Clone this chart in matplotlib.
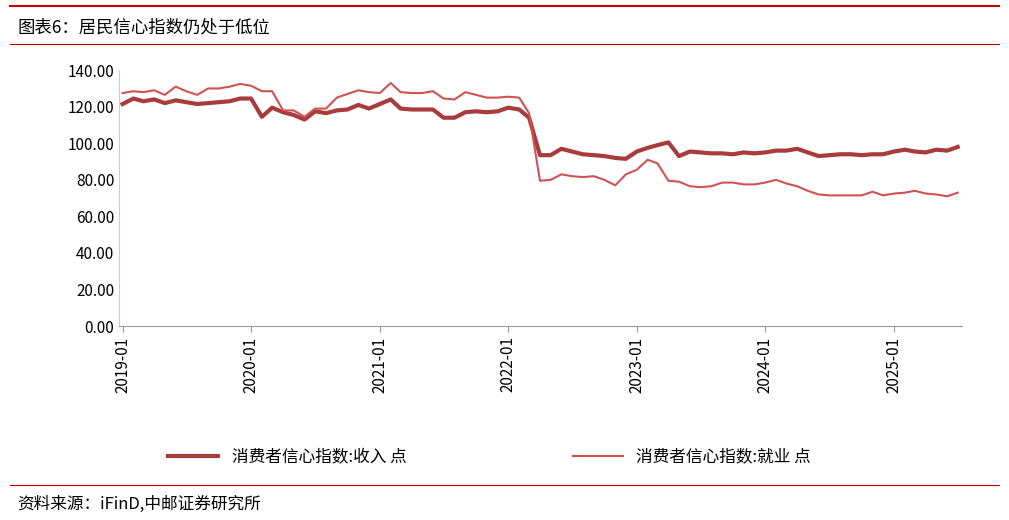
import matplotlib
matplotlib.use("Agg")
import matplotlib.pyplot as plt
import pandas as pd

plt.rcParams['font.family'] = ['Noto Sans CJK SC', 'DejaVu Sans']

dates = pd.date_range("2019-01-01", periods=79, freq="MS")
income = [121.5,124.5,123,124,122,123.5,122.5,121.5,122,122.5,123,124.5,
          124.5,114.5,119.5,117,115.5,113,117.5,116.5,118,118.5,121,119,
          121.5,124,119,118.5,118.5,118.5,114,114,117,117.5,117,117.5,
          119.5,118.5,114,93.5,93.5,97,95.5,94,93.5,93,92,91.5,
          95.5,97.5,99,100.5,93,95.5,95,94.5,94.5,94,95,94.5,
          95,96,96,97,95,93,93.5,94,94,93.5,94,94,
          95.5,96.5,95.5,95,96.5,96,98]
employ = [127.5,128.5,128,129,126.5,131,128.5,126.5,130,130,131,132.5,
          131.5,128.5,128.5,118,118,114.5,119,119,125,127,129,128,
          127.5,133,128,127.5,127.5,128.5,124.5,124,128,126.5,125,125,
          125.5,125,116.5,79.5,80,83,82,81.5,82,80,77,83,
          85.5,91,89,79.5,79,76.5,76,76.5,78.5,78.5,77.5,77.5,
          78.5,80,78,76.5,74,72,71.5,71.5,71.5,71.5,73.5,71.5,
          72.5,73,74,72.5,72,71,73]
yticks = [0,20,40,60,80,100,120,140]
tick_dates = pd.date_range("2019-01-01", periods=7, freq="12MS")
tick_labels = [d.strftime("%Y-%m") for d in tick_dates]

fig = plt.figure(figsize=(10.09,5.2), dpi=100)
ax = fig.add_axes([0.118, 0.373, 0.835, 0.492])
ax.plot(dates, income, color='#A83C3C', lw=3, label='消费者信心指数:收入 点')
ax.plot(dates, employ, color='#D05252', lw=1.5, label='消费者信心指数:就业 点')
ax.set_ylim(0,140)
ax.set_yticks(yticks)
ax.set_yticklabels([f"{v:.2f}" for v in yticks], fontsize=11)
ax.set_xticks(tick_dates)
ax.set_xticklabels(tick_labels, rotation=90, fontsize=11)
ax.set_xlim(pd.Timestamp("2018-12-22"), pd.Timestamp("2025-07-12"))
for s in ['top','right']:
    ax.spines[s].set_visible(False)
ax.spines['left'].set_color('#cccccc')
ax.spines['bottom'].set_color('#999999')
ax.tick_params(axis='y', length=0)
ax.tick_params(axis='x', length=4, color='#999999')
ax.legend(loc='upper center', bbox_to_anchor=(0.44, -0.42), ncol=2, frameon=False,
          fontsize=12, columnspacing=10, handlelength=3)

fig.add_artist(plt.Line2D([0.01,0.99],[0.988,0.988], color='#C00000', lw=1.5))
fig.add_artist(plt.Line2D([0.01,0.99],[0.915,0.915], color='#C00000', lw=0.8))
fig.add_artist(plt.Line2D([0.01,0.99],[0.068,0.068], color='#C00000', lw=0.8))
fig.text(0.017, 0.948, '图表6：居民信心指数仍处于低位', fontsize=12.5, va='center')
fig.text(0.017, 0.03, '资料来源：iFinD,中邮证券研究所', fontsize=12, va='center')
fig.savefig("out.png", dpi=100)
